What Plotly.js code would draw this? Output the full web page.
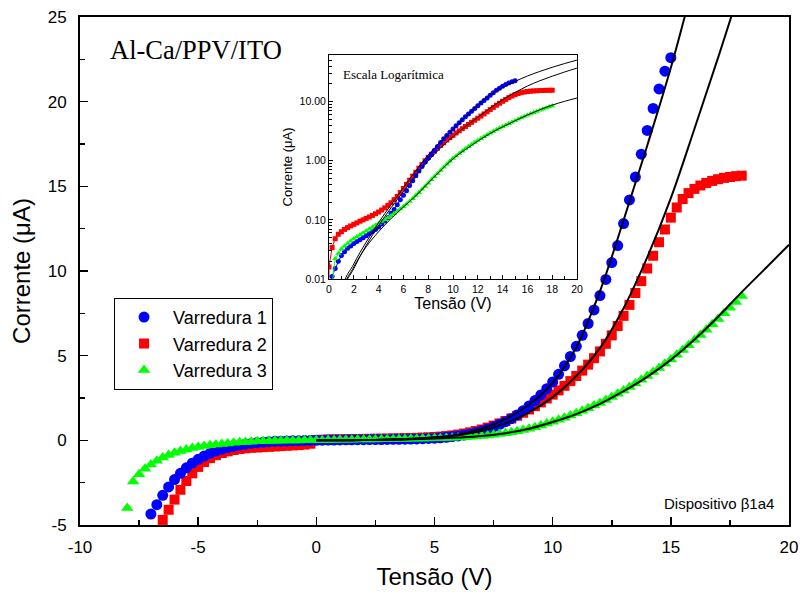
<!DOCTYPE html>
<html>
<head>
<meta charset="utf-8">
<script src="https://cdn.plot.ly/plotly-3.0.1.min.js"></script>
<style>html,body{margin:0;padding:0;background:#fff;}#chart{width:801px;height:596px;}</style>
</head>
<body>
<div id="chart"></div>
<script>
// Varredura 1 (blue circles)
const blueV = [-7,-6.75,-6.5,-6.25,-6,-5.75,-5.5,-5.25,-5,-4.75,-4.5,-4.25,-4,-3.75,-3.5,-3.25,-3,-2.75,-2.5,-2.25,-2,-1.75,-1.5,-1.25,-1,-0.75,-0.5,-0.25,0,0.25,0.5,0.75,1,1.25,1.5,1.75,2,2.25,2.5,2.75,3,3.25,3.5,3.75,4,4.25,4.5,4.75,5,5.25,5.5,5.75,6,6.25,6.5,6.75,7,7.25,7.5,7.75,8,8.25,8.5,8.75,9,9.25,9.5,9.75,10,10.25,10.5,10.75,11,11.25,11.5,11.75,12,12.25,12.5,12.75,13,13.25,13.5,13.75,14,14.25,14.5,14.75,15];
const blueI = [-4.35,-3.8,-3.25,-2.75,-2.32,-1.95,-1.62,-1.35,-1.12,-0.93,-0.77,-0.63,-0.52,-0.43,-0.35,-0.28,-0.22,-0.18,-0.14,-0.11,-0.08,-0.06,-0.05,-0.04,-0.03,-0.02,-0.01,-0.005,0,
0.011,0.015,0.02,0.025,0.029,0.033,0.036,0.04,0.043,0.046,0.05,0.054,0.058,0.063,0.069,0.076,0.085,0.096,0.11,0.13,0.15,0.18,0.22,0.26,0.31,0.38,0.46,0.56,0.67,0.8,0.95,1.1,1.28,1.5,1.75,2.03,2.35,2.68,3.05,3.45,3.9,4.4,4.95,5.55,6.2,6.9,7.7,8.55,9.5,10.5,11.5,12.8,14.2,15.55,16.9,18.3,19.6,20.75,21.8,22.6];

// Varredura 2 (red squares)
const redV = [-6.5,-6.25,-6,-5.75,-5.5,-5.25,-5,-4.75,-4.5,-4.25,-4,-3.75,-3.5,-3.25,-3,-2.75,-2.5,-2.25,-2,-1.75,-1.5,-1.25,-1,-0.75,-0.5,-0.25,0,0.25,0.5,0.75,1,1.25,1.5,1.75,2,2.25,2.5,2.75,3,3.25,3.5,3.75,4,4.25,4.5,4.75,5,5.25,5.5,5.75,6,6.25,6.5,6.75,7,7.25,7.5,7.75,8,8.25,8.5,8.75,9,9.25,9.5,9.75,10,10.25,10.5,10.75,11,11.25,11.5,11.75,12,12.25,12.5,12.75,13,13.25,13.5,13.75,14,14.25,14.5,14.75,15,15.25,15.5,15.75,16,16.25,16.5,16.75,17,17.25,17.5,17.75,18];
const redI = [-4.7,-4.1,-3.5,-2.92,-2.4,-1.95,-1.57,-1.28,-1.05,-0.88,-0.75,-0.65,-0.57,-0.51,-0.47,-0.44,-0.42,-0.4,-0.38,-0.36,-0.34,-0.32,-0.3,-0.28,-0.25,-0.2,
0.016,0.034,0.048,0.057,0.063,0.069,0.074,0.079,0.084,0.089,
0.095,0.1,0.106,0.112,0.119,0.127,0.136,0.147,0.16,0.176,
0.195,0.22,0.25,0.29,0.34,0.4,0.47,0.55,0.64,0.75,
0.87,1.0,1.14,1.29,1.45,1.63,1.82,2.02,2.24,2.47,
2.7,2.95,3.22,3.5,3.8,4.12,4.47,4.85,5.25,5.7,
6.2,6.75,7.35,8.0,8.7,9.4,10.15,10.9,11.7,12.45,
13.15,13.75,14.25,14.6,14.85,15.05,15.2,15.32,15.42,15.5,
15.55,15.6,15.63];

// Varredura 3 (green triangles)
const greenV = [-8,-7.75,-7.5,-7.25,-7,-6.75,-6.5,-6.25,-6,-5.75,-5.5,-5.25,-5,-4.75,-4.5,-4.25,-4,-3.75,-3.5,-3.25,-3,-2.75,-2.5,-2.25,-2,-1.75,-1.5,-1.25,-1,-0.75,-0.5,-0.25,0,0.25,0.5,0.75,1,1.25,1.5,1.75,2,2.25,2.5,2.75,3,3.25,3.5,3.75,4,4.25,4.5,4.75,5,5.25,5.5,5.75,6,6.25,6.5,6.75,7,7.25,7.5,7.75,8,8.25,8.5,8.75,9,9.25,9.5,9.75,10,10.25,10.5,10.75,11,11.25,11.5,11.75,12,12.25,12.5,12.75,13,13.25,13.5,13.75,14,14.25,14.5,14.75,15,15.25,15.5,15.75,16,16.25,16.5,16.75,17,17.25,17.5,17.75,18];
const greenI = [-4.0,-2.43,-2.0,-1.68,-1.42,-1.2,-1.01,-0.86,-0.73,-0.63,-0.54,-0.46,-0.4,-0.34,-0.29,-0.25,-0.21,-0.18,-0.15,-0.12,-0.1,-0.08,-0.06,-0.05,-0.04,-0.03,-0.02,-0.015,-0.01,-0.005,0,0,
0,0.008,0.022,0.027,0.032,0.036,0.04,0.044,0.048,0.052,
0.056,0.06,0.065,0.07,0.075,0.081,0.087,0.094,0.101,0.109,
0.118,0.128,0.14,0.153,0.168,0.185,0.205,0.23,0.26,0.29,
0.33,0.37,0.42,0.48,0.54,0.61,0.69,0.78,0.88,0.99,
1.1,1.21,1.33,1.46,1.6,1.74,1.89,2.05,2.21,2.38,
2.56,2.75,2.95,3.15,3.36,3.58,3.8,4.03,4.27,4.52,
4.78,5.05,5.33,5.62,5.92,6.22,6.53,6.85,7.17,7.5,
7.83,8.17,8.52];

// Fitted curves (black lines)
const fitV = [0,1,2,3,4,5,6,7,8,9,10,11,12,13,14,15,16,17,18,19,20];
const fit1 = [0,0.006,0.018,0.042,0.09,0.18,0.35,0.68,1.25,2.1,3.4,5.5,8.8,13.0,17.4,22.0,27.2,32.5,38.2,44.2,50.5];
const fit2 = [0,0.005,0.015,0.037,0.08,0.16,0.3,0.56,1.0,1.65,2.55,3.8,5.45,7.8,10.8,14.3,18.4,22.6,27.0,31.8,37.0];
const fit3 = [0,0.005,0.016,0.035,0.063,0.105,0.165,0.255,0.42,0.68,1.08,1.55,2.15,2.9,3.75,4.75,5.95,7.3,8.75,10.15,11.55];

const seriesNames = ['Varredura 1','Varredura 2','Varredura 3'];
const mainXTicks = [-10,-5,0,5,10,15,20];
const mainXTickText = ['-10','-5','0','5','10','15','20'];
const mainYTicks = [-5,0,5,10,15,20,25];
const mainYTickText = ['-5','0','5','10','15','20','25'];
const insetYTicks = [0.01,0.1,1,10];
const insetYTickText = ['0.01','0.10','1.00','10.00'];
const insetMinor = [0.02,0.03,0.04,0.05,0.06,0.07,0.08,0.09,0.2,0.3,0.4,0.5,0.6,0.7,0.8,0.9,2,3,4,5,6,7,8,9,20,30,40,50,60];

const BLUE='#0000ff', RED='#ff0000', GREEN='#00ff00';
const SANS='"Liberation Sans", Arial, sans-serif';
const SERIF='"Liberation Serif", "Times New Roman", serif';

const traces = [
  {x:redV, y:redI, type:'scatter', mode:'markers', name:seriesNames[1], legendrank:2,
   marker:{symbol:'square', size:10, color:RED}},
  {x:blueV, y:blueI, type:'scatter', mode:'markers', name:seriesNames[0], legendrank:1,
   marker:{symbol:'circle', size:11, color:BLUE}},
  {x:greenV, y:greenI, type:'scatter', mode:'markers', name:seriesNames[2], legendrank:3,
   marker:{symbol:'triangle-up', size:11, color:GREEN}},
  {x:fitV, y:fit1, type:'scatter', mode:'lines', showlegend:false, line:{color:'black', width:2, shape:'spline'}},
  {x:fitV, y:fit2, type:'scatter', mode:'lines', showlegend:false, line:{color:'black', width:2, shape:'spline'}},
  {x:fitV, y:fit3, type:'scatter', mode:'lines', showlegend:false, line:{color:'black', width:2, shape:'spline'}},
  // inset
  {x:redV, y:redI, xaxis:'x2', yaxis:'y2', type:'scatter', mode:'lines+markers', showlegend:false,
   line:{color:RED, width:1}, marker:{symbol:'square', size:5, color:RED}},
  {x:blueV, y:blueI, xaxis:'x2', yaxis:'y2', type:'scatter', mode:'lines+markers', showlegend:false,
   line:{color:BLUE, width:1}, marker:{symbol:'circle', size:5, color:BLUE}},
  {x:greenV, y:greenI, xaxis:'x2', yaxis:'y2', type:'scatter', mode:'lines+markers', showlegend:false,
   line:{color:GREEN, width:1}, marker:{symbol:'triangle-up', size:5.5, color:GREEN}},
  {x:fitV, y:fit1, xaxis:'x2', yaxis:'y2', type:'scatter', mode:'lines', showlegend:false, line:{color:'black', width:1, shape:'spline'}},
  {x:fitV, y:fit2, xaxis:'x2', yaxis:'y2', type:'scatter', mode:'lines', showlegend:false, line:{color:'black', width:1, shape:'spline'}},
  {x:fitV, y:fit3, xaxis:'x2', yaxis:'y2', type:'scatter', mode:'lines', showlegend:false, line:{color:'black', width:1, shape:'spline'}}
];

const layout = {
  width:801, height:596,
  margin:{l:80, r:12, t:17, b:71, pad:0},
  paper_bgcolor:'white', plot_bgcolor:'white',
  font:{family:SANS, color:'black'},
  showlegend:true,
  legend:{x:0.048, y:0.447, xanchor:'left', yanchor:'top', bordercolor:'black', borderwidth:1,
          bgcolor:'white', font:{size:18, color:'black', family:SANS}, itemwidth:48},
  xaxis:{domain:[0,1], range:[-10,20], tickmode:'array', tickvals:mainXTicks, ticktext:mainXTickText,
         ticks:'inside', ticklen:8, tickwidth:1.5, tickcolor:'black', ticklabelstandoff:6,
         minor:{tickmode:'linear', tick0:0, dtick:2.5, ticks:'inside', ticklen:5, tickwidth:1.5, tickcolor:'black'},
         showline:true, linewidth:2, linecolor:'black', mirror:true, showgrid:false, zeroline:false,
         tickfont:{size:17}, title:{text:'Tensão (V)', font:{size:24}, standoff:12}},
  yaxis:{domain:[0,1], range:[-5,25], tickmode:'array', tickvals:mainYTicks, ticktext:mainYTickText,
         ticks:'inside', ticklen:8, tickwidth:1.5, tickcolor:'black', ticklabelstandoff:8,
         minor:{tickmode:'linear', tick0:0, dtick:2.5, ticks:'inside', ticklen:5, tickwidth:1.5, tickcolor:'black'},
         showline:true, linewidth:2, linecolor:'black', mirror:true, showgrid:false, zeroline:false,
         tickfont:{size:17}, title:{text:'Corrente (μA)', font:{size:24}, standoff:10}},
  xaxis2:{domain:[0.3512,0.701], anchor:'y2', range:[0,20], tick0:0, dtick:2, ticks:'inside', ticklen:4, tickcolor:'black',
          minor:{dtick:1, ticks:'inside', ticklen:2.5, tickcolor:'black'},
          showline:true, linewidth:1, linecolor:'black', mirror:true, showgrid:false, zeroline:false,
          tickfont:{size:10.5}, title:{text:'Tensão (V)', font:{size:16}, standoff:2}},
  yaxis2:{domain:[0.4843,0.9252], anchor:'x2', type:'log', range:[-2,1.79],
          tickmode:'array', tickvals:insetYTicks, ticktext:insetYTickText, ticks:'inside', ticklen:4, tickcolor:'black',
          minor:{tickmode:'array', tickvals:insetMinor, ticks:'inside', ticklen:2.5, tickcolor:'black'},
          showline:true, linewidth:1, linecolor:'black', mirror:true, showgrid:false, zeroline:false,
          tickfont:{size:10.5}, title:{text:'Corrente (μA)', font:{size:13}, standoff:4}},
  annotations:[
    {xref:'paper', yref:'paper', x:0.0395, y:0.935, xanchor:'left', yanchor:'middle', showarrow:false,
     text:'Al-Ca/PPV/ITO', font:{family:SERIF, size:26.5}},
    {xref:'paper', yref:'paper', x:0.368, y:0.886, xanchor:'left', yanchor:'middle', showarrow:false,
     text:'Escala Logarítmica', font:{family:SERIF, size:13}},
    {xref:'paper', yref:'paper', x:0.9817, y:0.0433, xanchor:'right', yanchor:'middle', showarrow:false,
     text:'Dispositivo β1a4', font:{size:15}}
  ]
};

Plotly.newPlot('chart', traces, layout, {displayModeBar:false, staticPlot:true});
</script>
</body>
</html>
